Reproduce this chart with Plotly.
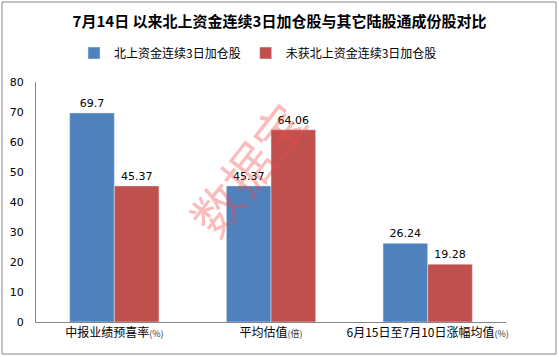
import plotly.graph_objects as go

categories = ["中报业绩预喜率", "平均估值", "6月15日至7月10日涨幅均值"]
units = ["(%)", "(倍)", "(%)"]
series_names = ["北上资金连续3日加仓股", "未获北上资金连续3日加仓股"]
blue_vals = [69.7, 45.37, 26.24]
red_vals = [45.37, 64.06, 19.28]
blue_labels = ["69.7", "45.37", "26.24"]
red_labels = ["45.37", "64.06", "19.28"]
y_ticks = [0, 10, 20, 30, 40, 50, 60, 70, 80]

ticktext = [f"{c}<span style='font-size:9px;color:#333'>{u}</span>" for c, u in zip(categories, units)]

fig = go.Figure()
fig.add_trace(go.Bar(x=categories, y=blue_vals, name=series_names[0], marker_color="#4F81BD",
                     text=blue_labels, textposition="outside", cliponaxis=False,
                     textfont=dict(family="DejaVu Sans", size=11, color="#000")))
fig.add_trace(go.Bar(x=categories, y=red_vals, name=series_names[1], marker_color="#C0504D",
                     text=red_labels, textposition="outside", cliponaxis=False,
                     textfont=dict(family="DejaVu Sans", size=11, color="#000")))

fig.update_layout(
    width=559, height=357,
    margin=dict(l=36, r=53, t=82, b=35, autoexpand=False),
    paper_bgcolor="white", plot_bgcolor="white",
    barmode="group", bargap=0.43, bargroupgap=0,
    font=dict(family="Noto Sans CJK SC", color="#000"),
    title=dict(text="<b>7月14日 以来北上资金连续3日加仓股与其它陆股通成份股对比</b>",
               x=0.5, xref="container", xanchor="center",
               y=1 - 22 / 357, yref="container", yanchor="middle",
               font=dict(size=15, family="Noto Sans CJK SC", color="#000")),
    legend=dict(orientation="h", x=(74 - 36) / 470, xanchor="left",
                y=(322 - 53) / 240, yanchor="middle",
                font=dict(size=12, family="Noto Sans CJK SC"),
                itemwidth=30, tracegroupgap=0),
    showlegend=True,
    xaxis=dict(tickmode="array", tickvals=categories, ticktext=ticktext,
               showline=True, linecolor="#868686", linewidth=1,
               ticks="", tickfont=dict(size=12, family="Noto Sans CJK SC"),
               showgrid=False),
    yaxis=dict(range=[0, 80], tickvals=y_ticks, showline=True, linecolor="#868686",
               linewidth=1, ticks="", showgrid=False, zeroline=False,
               tickfont=dict(size=11, family="DejaVu Sans"), ticklabelstandoff=9),
)

# outer border
fig.add_shape(type="rect", xref="paper", yref="paper",
              x0=(2 - 36) / 470, x1=(556 - 36) / 470,
              y0=(322 - 354) / 240, y1=(322 - 2) / 240,
              line=dict(color="#868686", width=1), fillcolor="rgba(0,0,0,0)", layer="below")

# watermark
fig.add_annotation(text="数据宝", xref="paper", yref="paper",
                   x=(246 - 36) / 470, y=(322 - 168) / 240, showarrow=False,
                   textangle=-52, font=dict(size=50, color="rgba(240,70,70,0.36)",
                                            family="Noto Sans CJK SC"))

fig.write_html("out.html", config={"displayModeBar": False},
               post_script="document.body.style.margin='0';")
